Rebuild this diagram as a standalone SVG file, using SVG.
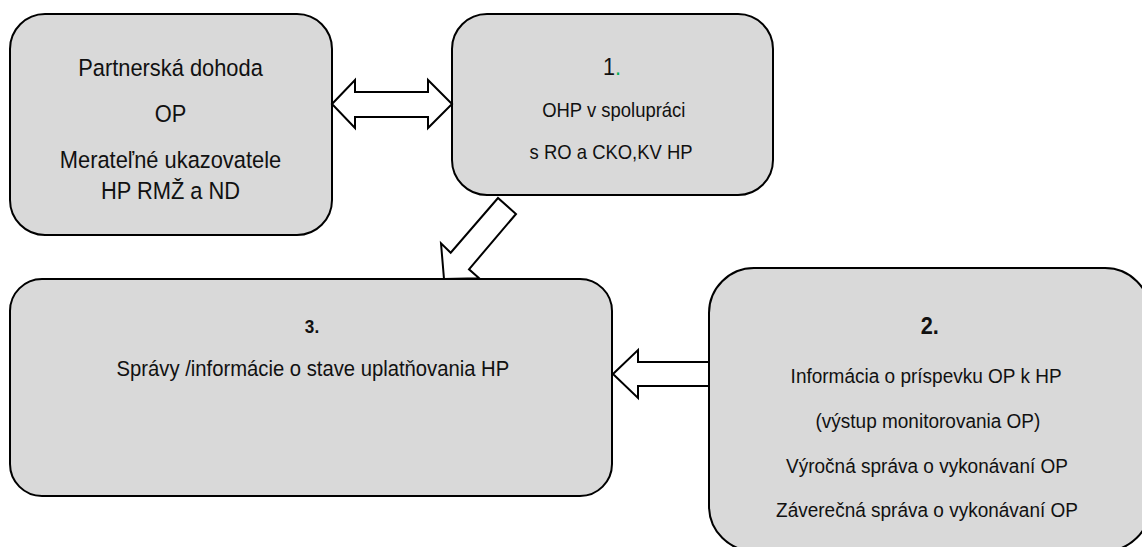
<svg xmlns="http://www.w3.org/2000/svg" width="1142" height="547" viewBox="0 0 1142 547">
<style>
.box{fill:#d9d9d9;stroke:#000;stroke-width:2}
.arr{fill:#fff;stroke:#000;stroke-width:2;stroke-linejoin:miter}
text{font-family:"Liberation Sans",Arial,sans-serif;fill:#111;text-anchor:middle}
.a{font-size:23.5px}
.b{font-size:20.5px}
.c{font-size:22.5px}
.d{font-size:21px}
.n{font-weight:bold}
</style>
<rect width="1142" height="547" fill="#fff"/>
<g id="node-partnerska">
<rect class="box" x="10" y="14" width="322" height="221" rx="35"/>
<g transform="translate(170.5,0) scale(0.93,1)">
<text class="a" x="0" y="76">Partnerská dohoda</text>
<text class="a" x="0" y="122">OP</text>
<text class="a" x="0" y="168">Merateľné ukazovatele</text>
<text class="a" x="0" y="199">HP RMŽ a ND</text>
</g>
</g>
<g id="node-1">
<rect class="box" x="452" y="14" width="321" height="181" rx="35"/>
<g transform="translate(612,0) scale(0.9,1)">
<text x="0" y="75" style="font-size:24px">1<tspan fill="#00b050">.</tspan></text>
<text class="b" x="2" y="117">OHP v spolupráci</text>
<text class="b" x="-1" y="159">s RO a CKO,KV HP</text>
</g>
</g>
<g id="node-3">
<rect class="box" x="10" y="279" width="602" height="217" rx="32"/>
<g transform="translate(312,0) scale(0.9,1)">
<text class="n" x="0" y="333" style="font-size:19px">3.</text>
<text class="c" x="1" y="376">Správy /informácie o stave uplatňovania HP</text>
</g>
</g>
<g id="node-2">
<rect class="box" x="709" y="268" width="441" height="283" rx="45"/>
<g transform="translate(927,0) scale(0.905,1)">
<text class="n" x="3" y="334" style="font-size:24px">2.</text>
<text class="d" x="-1" y="383">Informácia o príspevku OP k HP</text>
<text class="d" x="1" y="428">(výstup monitorovania OP)</text>
<text class="d" x="0" y="473">Výročná správa o vykonávaní OP</text>
<text class="d" x="0" y="517">Záverečná správa o vykonávaní OP</text>
</g>
</g>
<g id="connectors">
<polygon class="arr" points="332,104 355,80 355,92 428,92 428,80 452,104 428,128 428,117 355,117 355,128"/>
<polygon class="arr" points="498,198 450.7,252.7 441,243.3 444,279 479.2,278.2 469,269.3 516,214"/>
<polygon class="arr" points="613,374 638,350 638,362 709,362 709,386 638,386 638,398"/>
</g>
</svg>
